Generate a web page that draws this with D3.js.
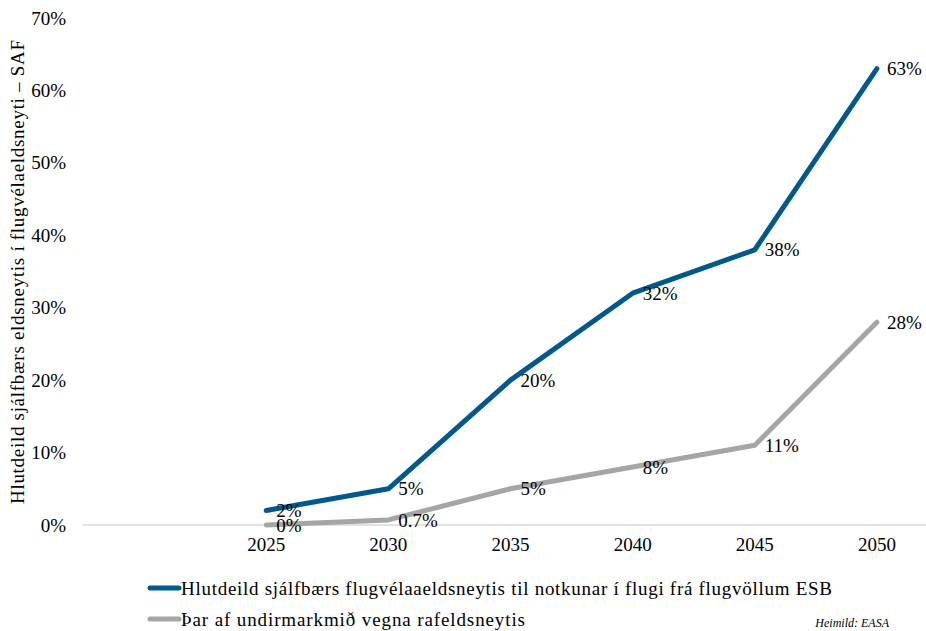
<!DOCTYPE html>
<html>
<head>
<meta charset="utf-8">
<script src="https://cdn.jsdelivr.net/npm/d3@7"></script>
<style>
  html, body { margin: 0; padding: 0; background: #fff; }
  svg { display: block; }
  text { font-family: "Liberation Serif", "DejaVu Serif", serif; fill: #000; }
</style>
</head>
<body>
<svg id="chart" width="926" height="631"></svg>
<script>
// Categories: the first slot is left blank on the axis
const years = ["", "2025", "2030", "2035", "2040", "2045", "2050"];
// Share of sustainable aviation fuel (percent)
const safShare = [null, 2, 5, 20, 32, 38, 63];
// Of which: e-fuel sub-target (percent)
const eFuelShare = [null, 0, 0.7, 5, 8, 11, 28];
const eFuelLabels = [null, "0%", "0.7%", "5%", "8%", "11%", "28%"];
const yTicks = [0, 10, 20, 30, 40, 50, 60, 70];

const seriesNames = [
  "Hlutdeild sjálfbærs flugvélaaeldsneytis til notkunar í flugi frá flugvöllum ESB",
  "Þar af undirmarkmið vegna rafeldsneytis"
];
const colors = ["#00588c", "#a5a5a5"];

const svg = d3.select("#chart");
const FS = 19;

const x = d3.scaleBand().domain(years).range([83, 938]);
const y = d3.scaleLinear().domain([0, 70]).range([525, 18]);
const cx = d => x(d) + x.bandwidth() / 2;

// Baseline at 0%
svg.append("line")
  .attr("x1", 83).attr("x2", 938)
  .attr("y1", y(0)).attr("y2", y(0))
  .attr("stroke", "#d9d9d9").attr("stroke-width", 1.3);

// Y axis tick labels
const yAxis = d3.axisLeft(y).tickValues(yTicks).tickFormat(d => d + "%").tickSize(0).tickPadding(0);
const gy = svg.append("g").attr("transform", "translate(66,0)").call(yAxis);
gy.select(".domain").remove();
gy.selectAll("text").attr("font-size", FS).attr("font-family", "Liberation Serif").attr("fill", "#000");

// X axis tick labels
const xAxis = d3.axisBottom(x).tickSize(0).tickPadding(0);
const gx = svg.append("g").attr("transform", "translate(0,537)").call(xAxis);
gx.select(".domain").remove();
gx.selectAll("text").attr("font-size", FS).attr("font-family", "Liberation Serif").attr("fill", "#000");

// Y axis title
svg.append("text")
  .attr("transform", "translate(24,272) rotate(-90)")
  .attr("text-anchor", "middle")
  .attr("font-size", FS)
  .attr("textLength", 464)
  .attr("lengthAdjust", "spacing")
  .text("Hlutdeild sjálfbærs eldsneytis í flugvélaeldsneyti – SAF");

const line = d3.line()
  .defined(d => d.v !== null)
  .x(d => cx(d.year))
  .y(d => y(d.v));

const series = [
  { values: safShare, labels: safShare.map(v => v === null ? null : v + "%"), color: colors[0] },
  { values: eFuelShare, labels: eFuelLabels, color: colors[1] }
];

// Draw grey line first so the blue sits on top
[series[1], series[0]].forEach(s => {
  const pts = years.map((yr, i) => ({ year: yr, v: s.values[i], label: s.labels[i] }));
  svg.append("path")
    .datum(pts)
    .attr("fill", "none")
    .attr("stroke", s.color)
    .attr("stroke-width", 5)
    .attr("stroke-linejoin", "round")
    .attr("stroke-linecap", "round")
    .attr("d", line);
  s.pts = pts;
});

// Data labels to the right of each point
series.forEach(s => {
  svg.append("g").selectAll("text")
    .data(s.pts.filter(d => d.v !== null))
    .join("text")
    .attr("x", d => cx(d.year) + 10)
    .attr("y", d => y(d.v))
    .attr("dy", "0.35em")
    .attr("font-size", FS)
    .text(d => d.label);
});

// Legend
const legendWidths = [651, 344];
const legend = svg.append("g");
seriesNames.forEach((name, i) => {
  const ly = 588 + i * 31;
  legend.append("line")
    .attr("x1", 150).attr("x2", 179)
    .attr("y1", ly).attr("y2", ly)
    .attr("stroke", colors[i]).attr("stroke-width", 5)
    .attr("stroke-linecap", "round");
  legend.append("text")
    .attr("x", 181).attr("y", ly)
    .attr("dy", "0.35em")
    .attr("font-size", FS)
    .attr("textLength", legendWidths[i])
    .attr("lengthAdjust", "spacing")
    .text(name);
});

// Source note
svg.append("text")
  .attr("x", 889).attr("y", 627)
  .attr("text-anchor", "end")
  .attr("font-size", 12)
  .attr("font-style", "italic")
  .text("Heimild: EASA");
</script>
</body>
</html>
